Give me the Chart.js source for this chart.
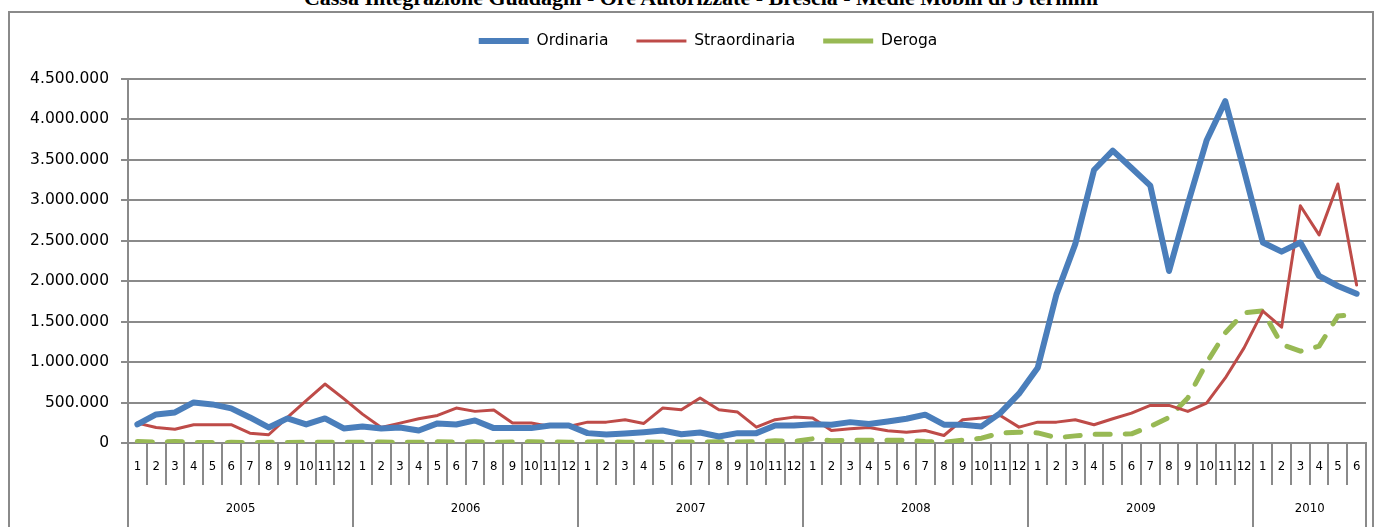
<!DOCTYPE html>
<html><head><meta charset="utf-8">
<script src="https://cdn.jsdelivr.net/npm/chart.js@4/dist/chart.umd.min.js"></script>
<style>
html,body{margin:0;padding:0;background:#fff;overflow:hidden;}
#wrap{position:relative;width:1381px;height:527px;overflow:hidden;}
#frame{position:absolute;left:8px;top:11px;width:1366px;height:600px;border:2px solid #8a8a8a;box-sizing:border-box;}
#title{position:absolute;left:0;width:1402px;top:-13px;text-align:center;font:bold 22px "Liberation Serif",serif;line-height:22px;white-space:nowrap;color:#000;}
canvas{position:absolute;left:0;top:0;}
</style></head>
<body><div id="wrap"><div id="frame"></div><div id="title">Cassa Integrazione Guadagni - Ore Autorizzate - Brescia - Medie Mobili di 3 termini</div><canvas id="c" width="1381" height="527"></canvas></div>
<script>
const years = ['2005','2006','2007','2008','2009','2010'];
const monthsPerYear = [12,12,12,12,12,6];
const months = [1,2,3,4,5,6,7,8,9,10,11,12, 1,2,3,4,5,6,7,8,9,10,11,12, 1,2,3,4,5,6,7,8,9,10,11,12, 1,2,3,4,5,6,7,8,9,10,11,12, 1,2,3,4,5,6,7,8,9,10,11,12, 1,2,3,4,5,6];
const yTicks = [0,500000,1000000,1500000,2000000,2500000,3000000,3500000,4000000,4500000];

const ordinaria = [
  229000,353000,378000,502000,477000,428000,316000,192000,304000,229000,304000,180000,
  205000,180000,192000,155000,242000,229000,279000,184000,184000,184000,217000,217000,
  122000,105000,118000,134000,155000,109000,130000,81000,122000,122000,217000,217000,
  233000,226000,258000,236000,267000,300000,350000,226000,226000,205000,370000,610000,
  930000,1838000,2458000,3375000,3615000,3400000,3181000,2127000,2954000,3739000,4226000,3367000,
  2478000,2366000,2478000,2065000,1941000,1845000
];
const straordinaria = [
  246000,192000,171000,226000,226000,226000,122000,102000,316000,523000,729000,548000,
  357000,192000,246000,300000,341000,432000,391000,409000,246000,246000,205000,205000,
  258000,258000,288000,242000,432000,412000,556000,412000,382000,196000,288000,320000,
  308000,155000,176000,192000,151000,134000,155000,93000,288000,308000,341000,196000,
  258000,258000,288000,226000,300000,370000,465000,465000,391000,494000,804000,1176000,
  1631000,1432000,2933000,2573000,3202000,1953000
];
const deroga = [
  20000,12000,18000,8000,5000,8000,5000,10000,5000,10000,8000,10000,
  8000,12000,10000,8000,15000,10000,15000,10000,12000,15000,12000,10000,
  12000,15000,10000,12000,10000,12000,10000,15000,12000,15000,27000,20000,
  52000,27000,35000,35000,35000,35000,19000,10000,35000,60000,122000,134000,
  125000,65000,88000,109000,109000,113000,205000,316000,556000,990000,1362000,1611000,
  1632000,1219000,1135000,1197000,1570000,1591000
];

const GRAY = '#8a8a8a';
const catW = (1366 - 128) / months.length;
const yearStart = [];
const yearOf = [];
let acc = 0;
monthsPerYear.forEach((n, i) => { yearStart.push(acc); for (let k = 0; k < n; k++) yearOf.push(years[i]); acc += n; });
const yearLabelIdx = yearStart.map((s, i) => s + monthsPerYear[i] / 2 - 1);
const fmt = v => String(v).replace(/\B(?=(\d{3})+(?!\d))/g, '.');

const legendTweak = {
  id: 'legendTweak',
  beforeLayout(chart) {
    const lg = chart.legend;
    if (lg && !lg._gapWrapped) {
      const f = lg.fit.bind(lg);
      lg.fit = function () { f(); this.height += 20.25; };
      lg._gapWrapped = true;
    }
  },
  afterLayout(chart) {
    const lg = chart.legend;
    if (lg) { lg.left += 25; lg.right += 25; }
  }
};

const cond = '"DejaVu Sans Condensed", "DejaVu Sans", sans-serif';

new Chart(document.getElementById('c'), {
  type: 'line',
  data: {
    labels: months.map(String),
    datasets: [
      { label: 'Ordinaria', data: ordinaria, borderColor: '#4A7EBB', backgroundColor: '#4A7EBB', borderWidth: 6,
        pointRadius: 0, borderCapStyle: 'round', borderJoinStyle: 'round', tension: 0, xAxisID: 'x' },
      { label: 'Straordinaria', data: straordinaria, borderColor: '#BE4B48', backgroundColor: '#BE4B48', borderWidth: 3,
        pointRadius: 0, borderCapStyle: 'round', borderJoinStyle: 'round', tension: 0, xAxisID: 'x' },
      { label: 'Deroga', data: deroga, borderColor: '#98B954', backgroundColor: '#98B954', borderWidth: 5,
        borderDash: [15, 15], pointRadius: 0, borderCapStyle: 'round', borderJoinStyle: 'round', tension: 0, xAxisID: 'x' }
    ]
  },
  options: {
    responsive: false, animation: false, devicePixelRatio: 1,
    layout: { padding: { top: 5.25, left: 0, right: 15, bottom: 0 } },
    plugins: {
      legend: { position: 'top', labels: { usePointStyle: true, pointStyle: 'line', pointStyleWidth: 50, padding: 28,
        font: { family: 'DejaVu Sans', size: 15.5 }, color: '#000' } },
      tooltip: { enabled: false },
      title: { display: false }
    },
    scales: {
      y: {
        min: 0, max: 4500000,
        afterBuildTicks: s => { s.ticks = yTicks.map(v => ({ value: v })); },
        afterFit: s => { s.width = 128; },
        grid: { color: GRAY, lineWidth: 2, tickLength: 7 },
        border: { color: GRAY, width: 2 },
        ticks: { padding: 12, font: { family: 'DejaVu Sans', size: 15.5 }, color: '#000', callback: v => fmt(v) }
      },
      x: {
        type: 'category', offset: true,
        afterFit: s => { s.height = 32; },
        grid: { offset: true, drawOnChartArea: false, tickLength: 42, color: GRAY, lineWidth: 2 },
        border: { display: true, color: GRAY, width: 2 },
        ticks: { autoSkip: false, maxRotation: 0, minRotation: 0, padding: -25.8,
          font: { family: cond, size: 13 }, color: '#000' }
      },
      x2: {
        type: 'category', labels: yearOf, offset: true, position: 'bottom',
        afterFit: s => { s.height = 52; },
        grid: { offset: true, drawOnChartArea: false, tickLength: 52, lineWidth: 2,
          color: c => (c.index === undefined || yearStart.includes(c.index)) ? GRAY : 'rgba(0,0,0,0)',
          tickColor: c => (c.index === undefined || yearStart.includes(c.index)) ? GRAY : 'rgba(0,0,0,0)' },
        border: { display: false },
        ticks: { autoSkip: false, maxRotation: 0, minRotation: 0, padding: -26.5, labelOffset: catW / 2,
          callback: (v, i) => yearLabelIdx.includes(i) ? yearOf[i] : '',
          font: { family: cond, size: 13 }, color: '#000' }
      }
    }
  },
  plugins: [legendTweak]
});
</script>
</body></html>
